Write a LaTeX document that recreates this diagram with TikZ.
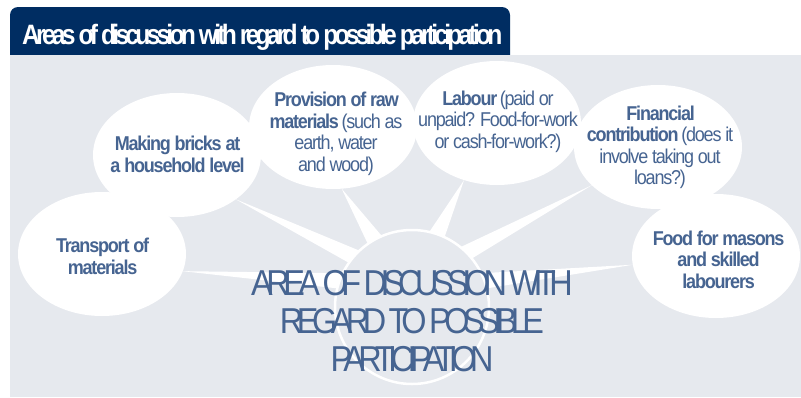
\documentclass[tikz,border=0pt]{standalone}
\usepackage{fontspec}
\setmainfont{Liberation Sans}
\newfontfamily\bubblefont{Liberation Sans}[FakeStretch=0.9, LetterSpace=-6]
\newfontfamily\titlefont{Liberation Sans}[FakeStretch=0.88, LetterSpace=-13.5]
\newfontfamily\hubfont{Liberation Sans}[FakeStretch=0.9, LetterSpace=-18]
\usetikzlibrary{shapes.geometric}

\definecolor{navy}{RGB}{0,45,98}
\definecolor{panelgrey}{RGB}{230,233,238}
\definecolor{textblue}{RGB}{70,100,145}

\tikzset{
    bubble/.style={ellipse, fill=white, minimum width=168pt, minimum height=124pt, inner sep=0pt, outer sep=0pt},
    bubtext/.style={align=center, inner sep=0pt, text=textblue, font=\bubblefont\fontsize{20}{21.5}\selectfont},
    spoke/.style={fill=white},
}

\begin{document}
\begin{tikzpicture}[x=1pt, y=-1pt]
    \useasboundingbox (0,0) rectangle (801,397);

    % Header tab and panel
    \fill[navy, rounded corners=8pt] (10,7) rectangle (510,70);
    \fill[panelgrey] (10,55) rectangle (801,397);
    \node[anchor=base west, inner sep=0pt, text=white, font=\titlefont\bfseries\fontsize{28}{30}\selectfont] (title) at (22,44) {Areas of discussion with regard to possible participation};

    % Bubbles
    \node[bubble] (trans) at (102,254) {};
    \node[bubble] (bricks) at (177,155) {};
    \node[bubble] (prov) at (333,127) {};
    \node[bubble] (lab) at (497,123) {};
    \node[bubble] (fin) at (658,147) {};
    \node[bubble] (food) at (716,256) {};

    % Hub
    \node[circle, fill=panelgrey, draw=white, line width=2.5pt, minimum size=154pt, inner sep=0pt, outer sep=0pt] (hub) at (412,307) {};

    % Spokes: bubble anchor / hub angle
    \foreach \bub/\tip/\base [evaluate=\base as \bl using \base+6, evaluate=\base as \br using \base-6] in {trans/-12/160, bricks/-37/139, prov/-82/119, lab/240/71, fin/210/45, food/186/20} {
        \fill[spoke] (\bub.\tip) -- (hub.\bl) -- (hub.\br) -- cycle;
    }

    % Bubble texts
    \node[bubtext] (transtext) at (102,256.5) {\textbf{Transport of}\\\textbf{materials}};
    \node[bubtext] (brickstext) at (177,154.5) {\textbf{Making bricks at}\\\textbf{a household level}};
    \node[bubtext] (provtext) at (336,134) {\textbf{Provision of raw}\\\textbf{materials} (such as\\earth, water\\and wood)};
    \node[bubtext] (labtext) at (498,121.5) {\textbf{Labour} (paid or\\unpaid? Food-for-work\\or cash-for-work?)};
    \node[bubtext] (fintext) at (660,147.5) {\textbf{Financial}\\\textbf{contribution} (does it\\involve taking out\\loans?)};
    \node[bubtext] (foodtext) at (718,259.5) {\textbf{Food for masons}\\\textbf{and skilled}\\\textbf{labourers}};

    % Hub text
    \node[align=center, inner sep=0pt, text=textblue, font=\hubfont\fontsize{36}{38}\selectfont] (hubtext) at (412,321) {AREA OF DISCUSSION WITH\\REGARD TO POSSIBLE\\PARTICIPATION};
\end{tikzpicture}
\end{document}
